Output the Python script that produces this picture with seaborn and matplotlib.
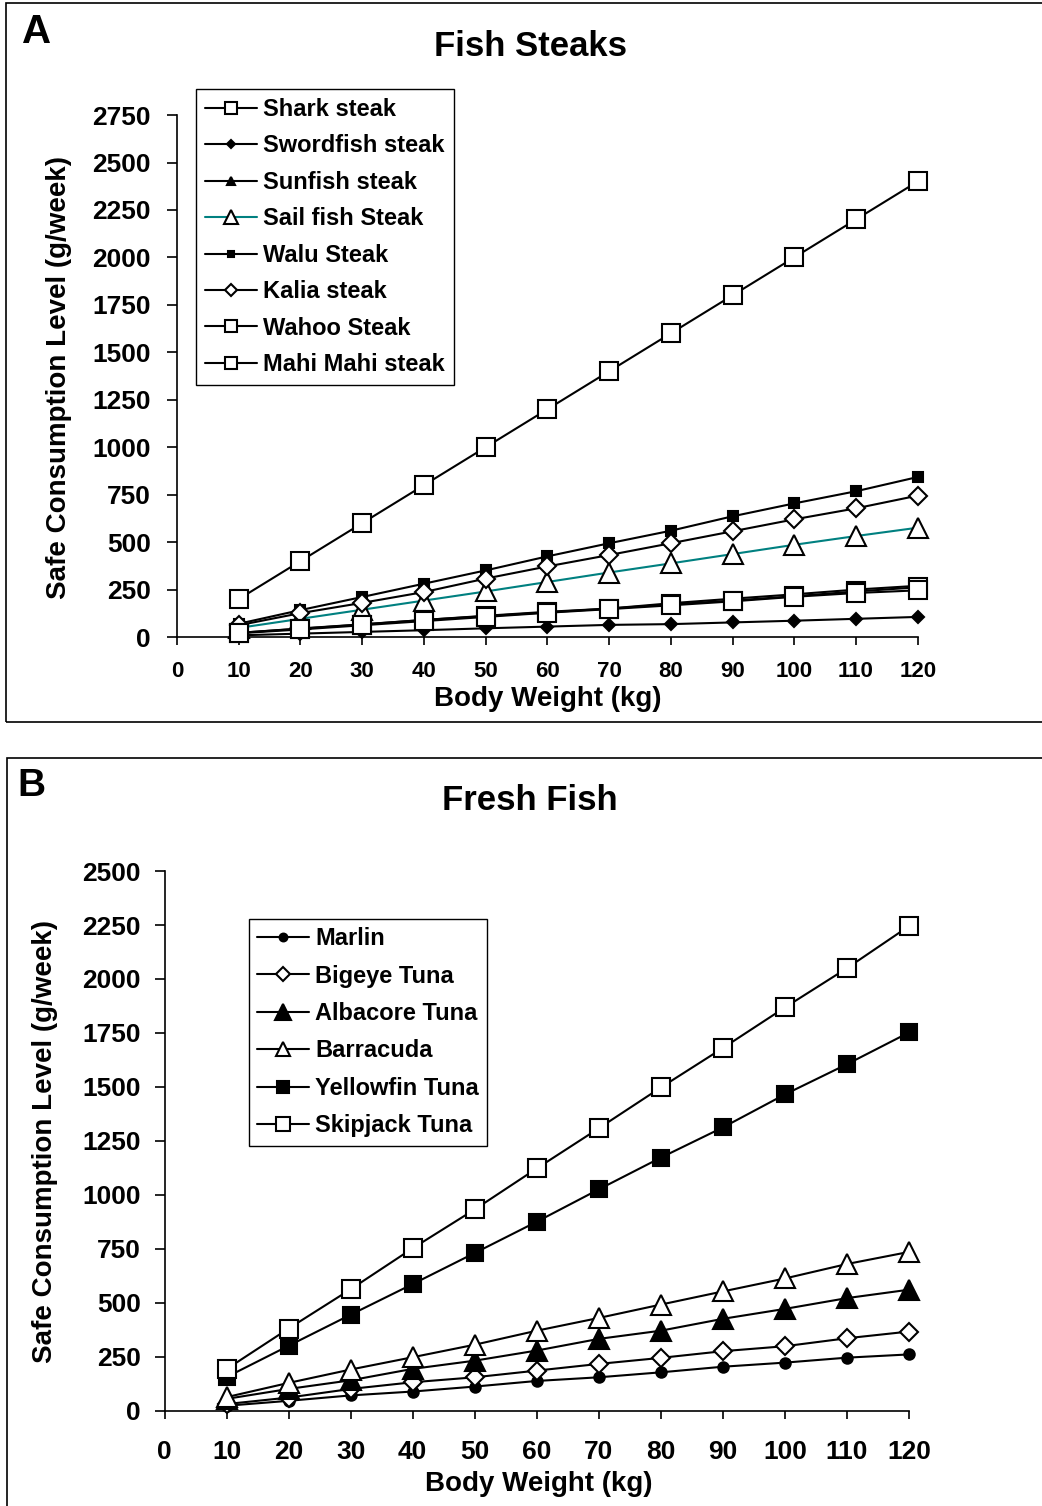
import pandas as pd
import matplotlib
matplotlib.use("Agg")
import matplotlib.pyplot as plt
from matplotlib.patches import Rectangle
import seaborn as sns

# body weight (kg)
body_weight = [10, 20, 30, 40, 50, 60, 70, 80, 90, 100, 110, 120]

# panel A - fish steaks (g/week)
shark = [200, 400, 600, 800, 1000, 1200, 1400, 1600, 1800, 2000, 2200, 2400]
swordfish = [9, 18, 27, 36, 46, 55, 64, 68, 77, 86, 96, 106]
sunfish = [22, 45, 67, 90, 112, 133, 150, 178, 202, 225, 250, 270]
sailfish = [48, 96, 144, 192, 240, 290, 340, 388, 437, 486, 532, 576]
walu = [70, 142, 211, 281, 351, 425, 494, 560, 636, 704, 768, 843]
kalia = [62, 126, 180, 237, 308, 372, 432, 494, 557, 620, 678, 745]
wahoo = [22, 44, 66, 90, 110, 130, 150, 172, 192, 215, 240, 262]
mahi = [20, 40, 62, 84, 106, 128, 147, 167, 188, 212, 232, 246]

# panel B - fresh fish (g/week)
marlin = [22, 45, 70, 88, 111, 137, 154, 177, 203, 222, 245, 260]
bigeye = [30, 60, 100, 131, 154, 185, 216, 244, 275, 298, 335, 366]
albacore = [54, 100, 140, 193, 231, 278, 332, 370, 425, 471, 521, 560]
barracuda = [62, 128, 190, 247, 305, 370, 429, 491, 552, 612, 679, 735]
yellowfin = [155, 300, 444, 586, 730, 875, 1025, 1172, 1312, 1465, 1605, 1752]
skipjack = [192, 380, 562, 752, 932, 1122, 1308, 1497, 1680, 1868, 2050, 2245]

steaks = [
    # name, values, marker, size, face, line colour
    ("Shark steak", shark, "s", 12.5, "white", "black"),
    ("Swordfish steak", swordfish, "D", 6.2, "black", "black"),
    ("Sunfish steak", sunfish, "^", 8.5, "black", "black"),
    ("Sail fish Steak", sailfish, "^", 14, "white", "#008080"),
    ("Walu Steak", walu, "s", 7.3, "black", "black"),
    ("Kalia steak", kalia, "D", 9.2, "white", "black"),
    ("Wahoo Steak", wahoo, "s", 12.5, "white", "black"),
    ("Mahi Mahi steak", mahi, "s", 12.5, "white", "black"),
]
fresh = [
    ("Marlin", marlin, "o", 7.5, "black", "black"),
    ("Bigeye Tuna", bigeye, "D", 9.6, "white", "black"),
    ("Albacore Tuna", albacore, "^", 14.5, "black", "black"),
    ("Barracuda", barracuda, "^", 14, "white", "black"),
    ("Yellowfin Tuna", yellowfin, "s", 12, "black", "black"),
    ("Skipjack Tuna", skipjack, "s", 12.7, "white", "black"),
]

sns.set_style("ticks", {"axes.edgecolor": "black", "text.color": "black",
                        "axes.labelcolor": "black", "xtick.color": "black",
                        "ytick.color": "black"})
plt.rcParams["font.family"] = ["Liberation Sans", "DejaVu Sans"]
plt.rcParams["font.weight"] = "bold"

fig = plt.figure(figsize=(10.42, 15.06), dpi=100)

# panel frames
fig.add_artist(Rectangle((6 / 1042, 1 - 722 / 1506), 1.2, 719 / 1506,
                         transform=fig.transFigure, fill=False, lw=1.2, ec="black"))
fig.add_artist(Rectangle((7 / 1042, -0.2), 1.2, 0.2 + 1 - 758 / 1506,
                         transform=fig.transFigure, fill=False, lw=1.2, ec="black"))

axA = fig.add_axes([0.1699, 0.5770, 0.7108, 0.3466])
axB = fig.add_axes([0.1579, 0.0634, 0.7145, 0.3582])


def draw(ax, series):
    for name, vals, mk, ms, face, lc in series:
        df = pd.DataFrame({"bw": body_weight, "val": vals})
        sns.lineplot(data=df, x="bw", y="val", ax=ax, color=lc, lw=1.5,
                     marker=mk, markersize=ms, markerfacecolor=face,
                     markeredgecolor="black", markeredgewidth=1.5,
                     label=name, clip_on=False, zorder=3)


draw(axA, steaks)
draw(axB, fresh)

for ax, ymax in [(axA, 2750), (axB, 2500)]:
    ax.set_xlim(0, 120)
    ax.set_ylim(0, ymax)
    ax.set_xticks(range(0, 121, 10))
    ax.set_yticks(range(0, ymax + 1, 250))
    sns.despine(ax=ax)
    ax.spines["left"].set_linewidth(1.2)
    ax.spines["bottom"].set_linewidth(1.2)
    ax.set_xlabel("Body Weight (kg)", fontsize=20, fontweight="bold")
    ax.set_ylabel("Safe Consumption Level (g/week)", fontsize=20, fontweight="bold")

axA.tick_params(axis="x", direction="out", length=6, width=1.2, pad=11, labelsize=16)
axA.tick_params(axis="y", direction="out", length=7, width=1.2, pad=12, labelsize=19)
axB.tick_params(axis="x", direction="out", length=6, width=1.2, pad=15, labelsize=19)
axB.tick_params(axis="y", direction="out", length=7, width=1.2, pad=10, labelsize=19)
for ax in (axA, axB):
    for lab in ax.get_xticklabels() + ax.get_yticklabels():
        lab.set_fontweight("bold")

axA.xaxis.set_label_coords(0.501, -0.093)
axA.yaxis.set_label_coords(-0.142, 0.498)
axB.xaxis.set_label_coords(0.503, -0.112)
axB.yaxis.set_label_coords(-0.143, 0.498)

legA = axA.legend(loc="upper left", bbox_to_anchor=(196 / 1042, 1 - 89 / 1506),
                  bbox_transform=fig.transFigure, frameon=True, fancybox=False,
                  edgecolor="black", framealpha=1, markerscale=0.68,
                  prop={"size": 17, "weight": "bold"}, handlelength=2.2,
                  handletextpad=0.25, labelspacing=0.57, borderpad=0.38,
                  borderaxespad=0)
legA.get_frame().set_linewidth(1.0)
legB = axB.legend(loc="upper left", bbox_to_anchor=(249 / 1042, 1 - 919 / 1506),
                  bbox_transform=fig.transFigure, frameon=True, fancybox=False,
                  edgecolor="black", framealpha=1, markerscale=0.75,
                  prop={"size": 17, "weight": "bold"}, handlelength=2.2,
                  handletextpad=0.25, labelspacing=0.61, borderpad=0.35,
                  borderaxespad=0)
legB.get_frame().set_linewidth(1.0)

fig.text(530 / 1042, 1 - 47 / 1506, "Fish Steaks", ha="center", va="center",
         fontsize=25, fontweight="bold")
fig.text(37 / 1042, 1 - 32 / 1506, "A", ha="center", va="center",
         fontsize=29, fontweight="bold")
fig.text(530 / 1042, 1 - 801 / 1506, "Fresh Fish", ha="center", va="center",
         fontsize=25, fontweight="bold")
fig.text(31 / 1042, 1 - 786 / 1506, "B", ha="center", va="center",
         fontsize=28, fontweight="bold")

fig.savefig("out.png", dpi=100)
